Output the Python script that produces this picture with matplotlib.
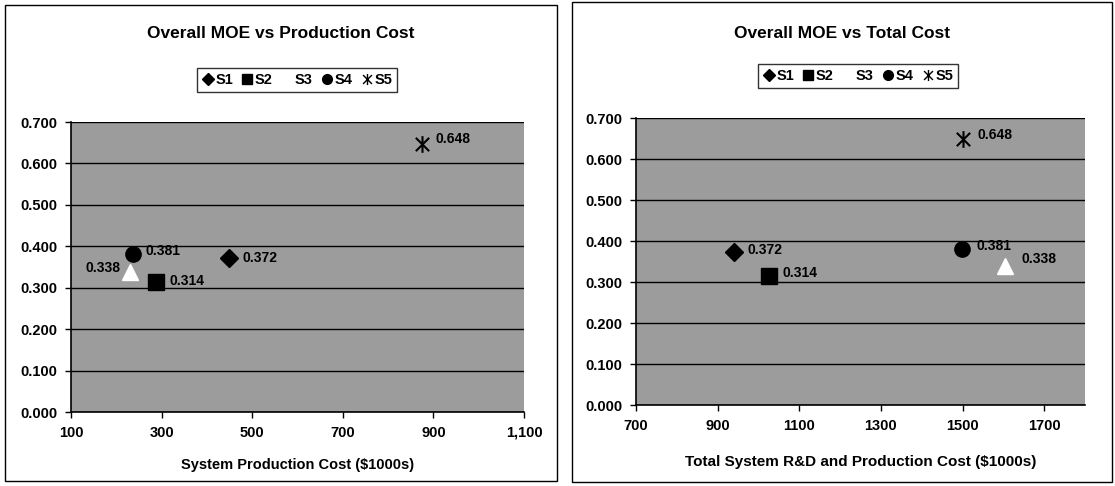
import numpy as np
import matplotlib
matplotlib.use("Agg")
import matplotlib.pyplot as plt
from matplotlib.path import Path
from matplotlib.patches import Rectangle
from matplotlib.ticker import FuncFormatter

plt.rcParams['font.family'] = ['Liberation Sans', 'DejaVu Sans']
plt.rcParams['font.weight'] = 'bold'

series = ['S1', 'S2', 'S3', 'S4', 'S5']
moe = [0.372, 0.314, 0.338, 0.381, 0.648]
prod_cost = [449, 287, 230, 237, 875]
total_cost = [940, 1026, 1604, 1499, 1502]
moe_labels = ['0.372', '0.314', '0.338', '0.381', '0.648']

# six-armed asterisk like the Excel star marker
star = Path([(0, -1), (0, 1), (-0.8, -0.8), (0.8, 0.8), (-0.8, 0.8), (0.8, -0.8)],
            [Path.MOVETO, Path.LINETO, Path.MOVETO, Path.LINETO, Path.MOVETO, Path.LINETO])

styles = [
    dict(marker='D', ms=9, color='black', mec='black'),
    dict(marker='s', ms=11, color='black', mec='black'),
    dict(marker='^', ms=11, color='white', mec='white'),
    dict(marker='o', ms=11, color='black', mec='black'),
    dict(marker=star, ms=12, color='black', mec='black', mew=1.5),
]
legend_ms = [6, 7, 5, 7, 8]

W, H = 1115, 486
fig = plt.figure(figsize=(W / 100, H / 100), dpi=100)


def box(x0, y0, x1, y1):
    return [x0 / W, 1 - y1 / H, (x1 - x0) / W, (y1 - y0) / H]


# panel frames
fig.patches.append(Rectangle((5 / W, 1 - 481 / H), 552 / W, 476 / H, transform=fig.transFigure,
                             fill=False, ec='black', lw=1))
fig.patches.append(Rectangle((572 / W, 1 - 482 / H), 540 / W, 480 / H, transform=fig.transFigure,
                             fill=False, ec='black', lw=1))

# label offsets in points (dx, dy, ha)
offs_left = [(10, 0, 'left'), (10, 1, 'left'), (-7, 3, 'right'), (9, 2, 'left'), (10, 3, 'left')]
offs_right = [(10, 2, 'left'), (10, 2, 'left'), (12, 5, 'left'), (10, 2, 'left'), (10, 3, 'left')]

panels = [
    dict(rect=box(71, 122, 524, 412), x=prod_cost, xlim=(100, 1100), xticks=np.arange(100, 1101, 200),
         fmt=lambda v, p: f'{v:,.0f}', title='Overall MOE vs Production Cost', tx=281,
         xlabel='System Production Cost ($1000s)', lx=298, ly=465, lsize=10.5, legx=297, legy=80,
         offs=offs_left),
    dict(rect=box(636, 118, 1085, 405), x=total_cost, xlim=(700, 1800), xticks=np.arange(700, 1701, 200),
         fmt=lambda v, p: f'{v:.0f}', title='Overall MOE vs Total Cost', tx=842,
         xlabel='Total System R&D and Production Cost ($1000s)', lx=861, ly=462, lsize=11, legx=858,
         legy=76, offs=offs_right),
]

for pn in panels:
    ax = fig.add_axes(pn['rect'])
    ax.set_facecolor('#9c9c9c')
    ax.set_xlim(*pn['xlim'])
    ax.set_ylim(0, 0.7)
    ax.set_xticks(pn['xticks'])
    ax.set_yticks(np.arange(0, 0.71, 0.1))
    ax.xaxis.set_major_formatter(FuncFormatter(pn['fmt']))
    ax.yaxis.set_major_formatter(FuncFormatter(lambda v, p: f'{v:.3f}'))
    ax.grid(axis='y', color='black', lw=1)
    ax.set_axisbelow(True)
    for s in ['top', 'right']:
        ax.spines[s].set_visible(False)
    for s in ['left', 'bottom']:
        ax.spines[s].set_color('black')
        ax.spines[s].set_linewidth(1.2)
    ax.tick_params(direction='out', length=4, width=1, labelsize=10.5, pad=6)
    for lab in ax.get_xticklabels() + ax.get_yticklabels():
        lab.set_fontweight('bold')

    handles = []
    for i, name in enumerate(series):
        st = dict(styles[i])
        h, = ax.plot([pn['x'][i]], [moe[i]], ls='none', label=name, clip_on=False, zorder=3, **st)
        dx, dy, ha = pn['offs'][i]
        ax.annotate(moe_labels[i], (pn['x'][i], moe[i]), xytext=(dx, dy), textcoords='offset points',
                    ha=ha, va='center', fontsize=10, fontweight='bold', zorder=4)
        hs = dict(styles[i])
        hs['ms'] = legend_ms[i]
        if 'mew' in hs:
            hs['mew'] = 1.0
        lh, = ax.plot([], [], ls='none', label=name, **hs)
        handles.append(lh)

    fig.text(pn['tx'] / W, 1 - 33 / H, pn['title'], ha='center', va='center', fontsize=12.5,
             fontweight='bold')
    fig.text(pn['lx'] / W, 1 - pn['ly'] / H, pn['xlabel'], ha='center', va='center', fontsize=pn['lsize'],
             fontweight='bold')
    leg = fig.legend(handles=handles, loc='center', bbox_to_anchor=(pn['legx'] / W, 1 - pn['legy'] / H),
                     ncol=5, frameon=True, fancybox=False, edgecolor='black', fontsize=10.5,
                     handlelength=0.8, handletextpad=0.1, columnspacing=0.6, borderpad=0.35,
                     borderaxespad=0)
    leg.get_frame().set_linewidth(1)
    for t in leg.get_texts():
        t.set_fontweight('bold')

fig.savefig('out.png', dpi=100)
